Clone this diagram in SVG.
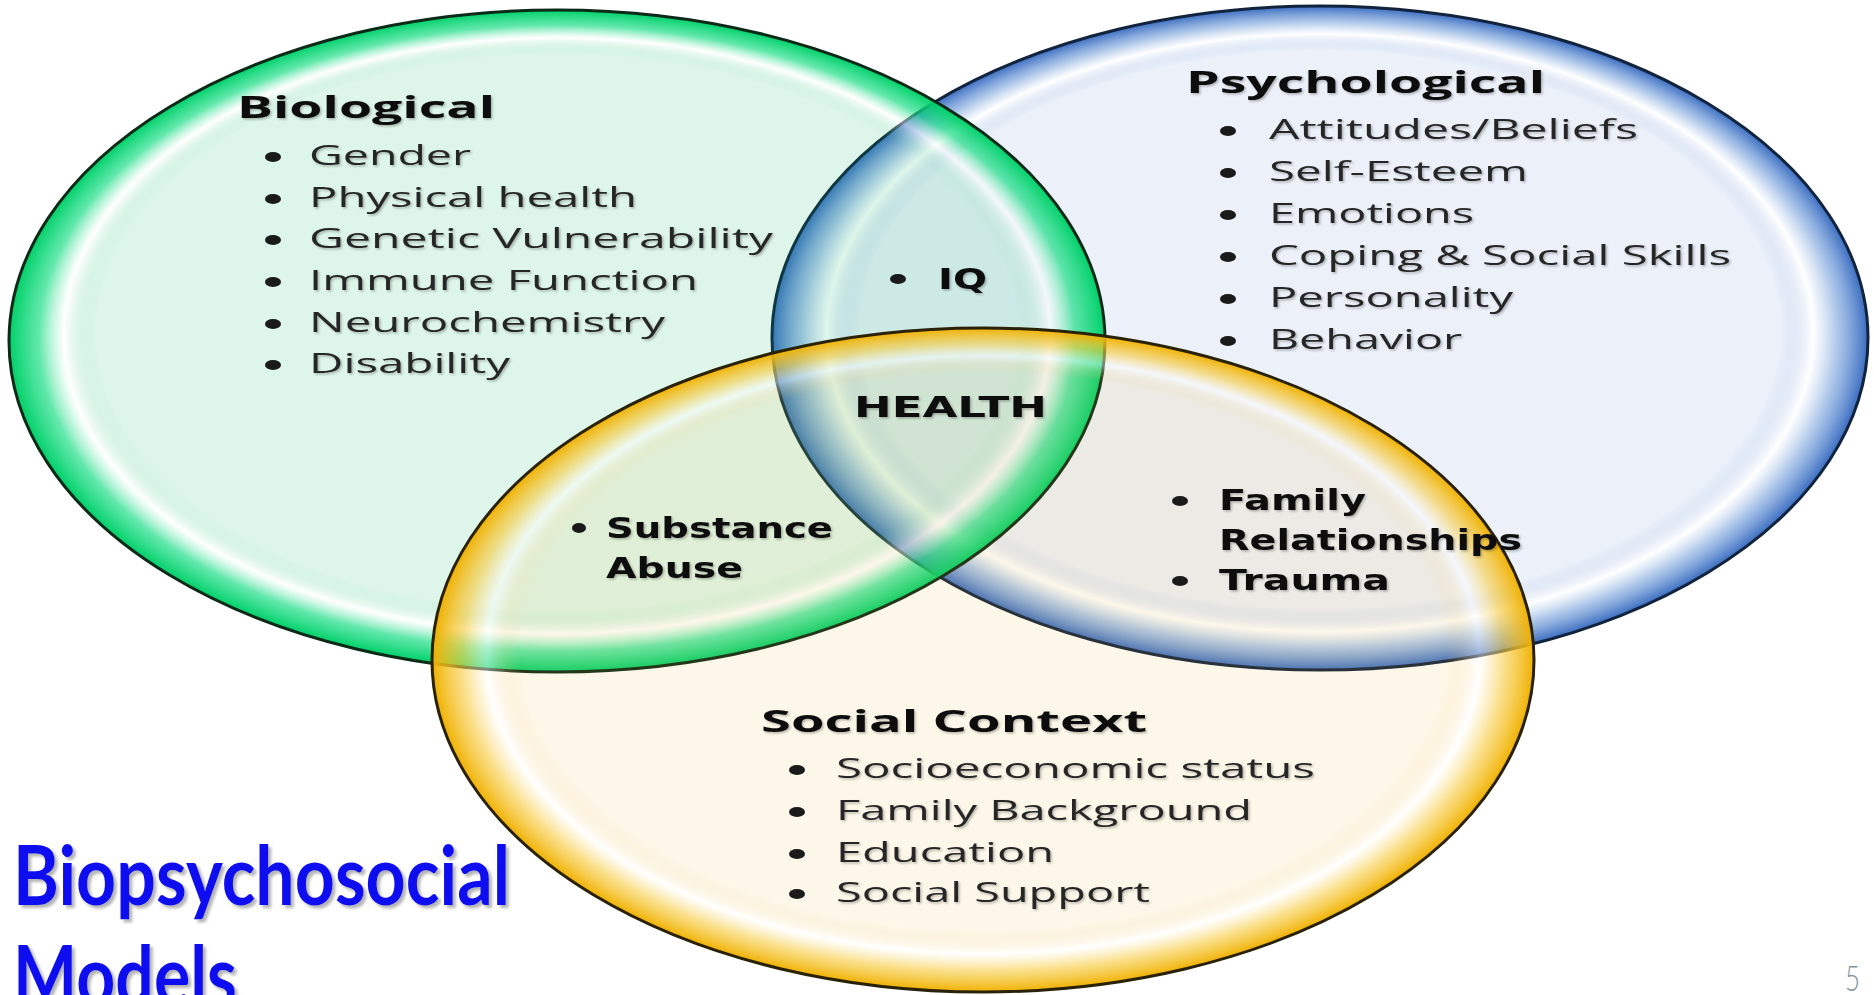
<svg xmlns="http://www.w3.org/2000/svg" width="1874" height="995" viewBox="0 0 1874 995">
  <defs>
    <!-- glossy rims: pale wash inside, highlight ring, saturated edge -->
    <radialGradient id="gradGreen" cx="0.5" cy="0.5" r="0.5" fx="0.5" fy="0.42">
      <stop offset="0" stop-color="#00b860" stop-opacity="0.13"/>
      <stop offset="0.84" stop-color="#00b860" stop-opacity="0.13"/>
      <stop offset="0.9" stop-color="#ffffff" stop-opacity="0.45"/>
      <stop offset="0.945" stop-color="#10dc80" stop-opacity="0.65"/>
      <stop offset="1" stop-color="#00d068" stop-opacity="1"/>
    </radialGradient>
    <radialGradient id="gradBlue" cx="0.5" cy="0.5" r="0.5" fx="0.5" fy="0.42">
      <stop offset="0" stop-color="#3c6ec8" stop-opacity="0.1"/>
      <stop offset="0.84" stop-color="#3c6ec8" stop-opacity="0.1"/>
      <stop offset="0.9" stop-color="#ffffff" stop-opacity="0.45"/>
      <stop offset="0.945" stop-color="#6a98d8" stop-opacity="0.55"/>
      <stop offset="1" stop-color="#3a6cc0" stop-opacity="1"/>
    </radialGradient>
    <radialGradient id="gradYellow" cx="0.5" cy="0.5" r="0.5" fx="0.5" fy="0.42">
      <stop offset="0" stop-color="#f0b428" stop-opacity="0.1"/>
      <stop offset="0.84" stop-color="#f0b428" stop-opacity="0.1"/>
      <stop offset="0.9" stop-color="#ffffff" stop-opacity="0.45"/>
      <stop offset="0.945" stop-color="#f8cc40" stop-opacity="0.6"/>
      <stop offset="1" stop-color="#f0b000" stop-opacity="1"/>
    </radialGradient>
    <filter id="textShadow" x="-5%" y="-20%" width="110%" height="150%">
      <feDropShadow dx="1.5" dy="1.5" stdDeviation="1.2" flood-color="#000" flood-opacity="0.28"/>
    </filter>
    <filter id="titleShadow" x="-5%" y="-20%" width="110%" height="150%">
      <feDropShadow dx="3" dy="3" stdDeviation="1.5" flood-color="#808080" flood-opacity="0.6"/>
    </filter>
  </defs>
  <style>
    .ring { stroke-width: 3; }
    .head { font-family: "Open Sans", "Liberation Sans", sans-serif; font-weight: bold; font-size: 30px; fill: #111; filter: url(#textShadow); }
    .item { font-family: "Open Sans", "Liberation Sans", sans-serif; font-size: 28px; fill: #262626; filter: url(#textShadow); }
    .core { font-family: "DejaVu Sans", "Liberation Sans", sans-serif; font-weight: bold; font-size: 28px; fill: #111; filter: url(#textShadow); }
    .dot { fill: #1a1a1a; }
    .title { font-family: Lato, "Liberation Sans", sans-serif; font-weight: bold; font-size: 83px; fill: #0a0af0; filter: url(#titleShadow); }
    .pagenum { font-family: Lato, "Liberation Sans", sans-serif; font-weight: 300; font-size: 35px; fill: #84939a; }
  </style>

  <rect width="1874" height="995" fill="#ffffff"/>

  <!-- the three overlapping circles -->
  <g id="circle-psychological">
    <ellipse class="ring" cx="1320" cy="338" rx="548" ry="332" fill="url(#gradBlue)" stroke="#12233d"/>
  </g>
  <g id="circle-biological">
    <ellipse class="ring" cx="557" cy="341" rx="548" ry="331" fill="url(#gradGreen)" stroke="#0c2a18"/>
  </g>
  <g id="circle-social">
    <ellipse class="ring" cx="983" cy="660" rx="551" ry="332" fill="url(#gradYellow)" stroke="#2a2208"/>
  </g>

  <g id="connectors"/>

  <!-- Biological factors -->
  <g id="node-biological">
    <text class="head" x="237" y="118" textLength="258" lengthAdjust="spacingAndGlyphs">Biological</text>
    <ellipse class="dot" cx="273" cy="157" rx="8" ry="5"/>
    <text class="item" x="309" y="165" textLength="162" lengthAdjust="spacingAndGlyphs">Gender</text>
    <ellipse class="dot" cx="273" cy="199" rx="8" ry="5"/>
    <text class="item" x="309" y="207" textLength="328" lengthAdjust="spacingAndGlyphs">Physical health</text>
    <ellipse class="dot" cx="273" cy="240" rx="8" ry="5"/>
    <text class="item" x="309" y="248" textLength="464" lengthAdjust="spacingAndGlyphs">Genetic Vulnerability</text>
    <ellipse class="dot" cx="273" cy="282" rx="8" ry="5"/>
    <text class="item" x="309" y="290" textLength="389" lengthAdjust="spacingAndGlyphs">Immune Function</text>
    <ellipse class="dot" cx="273" cy="324" rx="8" ry="5"/>
    <text class="item" x="309" y="332" textLength="356" lengthAdjust="spacingAndGlyphs">Neurochemistry</text>
    <ellipse class="dot" cx="273" cy="365" rx="8" ry="5"/>
    <text class="item" x="309" y="373" textLength="201" lengthAdjust="spacingAndGlyphs">Disability</text>
  </g>

  <!-- Psychological factors -->
  <g id="node-psychological">
    <text class="head" x="1186" y="93" textLength="359" lengthAdjust="spacingAndGlyphs">Psychological</text>
    <ellipse class="dot" cx="1228" cy="131" rx="8" ry="5"/>
    <text class="item" x="1269" y="139" textLength="369" lengthAdjust="spacingAndGlyphs">Attitudes/Beliefs</text>
    <ellipse class="dot" cx="1228" cy="173" rx="8" ry="5"/>
    <text class="item" x="1269" y="181" textLength="259" lengthAdjust="spacingAndGlyphs">Self-Esteem</text>
    <ellipse class="dot" cx="1228" cy="215" rx="8" ry="5"/>
    <text class="item" x="1269" y="223" textLength="205" lengthAdjust="spacingAndGlyphs">Emotions</text>
    <ellipse class="dot" cx="1228" cy="257" rx="8" ry="5"/>
    <text class="item" x="1269" y="265" textLength="462" lengthAdjust="spacingAndGlyphs">Coping &amp; Social Skills</text>
    <ellipse class="dot" cx="1228" cy="299" rx="8" ry="5"/>
    <text class="item" x="1269" y="307" textLength="244" lengthAdjust="spacingAndGlyphs">Personality</text>
    <ellipse class="dot" cx="1228" cy="341" rx="8" ry="5"/>
    <text class="item" x="1269" y="349" textLength="193" lengthAdjust="spacingAndGlyphs">Behavior</text>
  </g>

  <!-- Social context factors -->
  <g id="node-social">
    <text class="head" x="761" y="732" textLength="386" lengthAdjust="spacingAndGlyphs">Social Context</text>
    <ellipse class="dot" cx="797" cy="770" rx="8" ry="5"/>
    <text class="item" x="836" y="778" textLength="479" lengthAdjust="spacingAndGlyphs">Socioeconomic status</text>
    <ellipse class="dot" cx="797" cy="812" rx="8" ry="5"/>
    <text class="item" x="836" y="820" textLength="416" lengthAdjust="spacingAndGlyphs">Family Background</text>
    <ellipse class="dot" cx="797" cy="854" rx="8" ry="5"/>
    <text class="item" x="836" y="862" textLength="218" lengthAdjust="spacingAndGlyphs">Education</text>
    <ellipse class="dot" cx="797" cy="894" rx="8" ry="5"/>
    <text class="item" x="836" y="902" textLength="314" lengthAdjust="spacingAndGlyphs">Social Support</text>
  </g>

  <!-- overlaps -->
  <g id="node-iq">
    <ellipse class="dot" cx="898" cy="279" rx="8" ry="5"/>
    <text class="core" x="938" y="289" textLength="49" lengthAdjust="spacingAndGlyphs">IQ</text>
  </g>
  <g id="node-health">
    <text class="core" x="854" y="417" font-size="30" textLength="193" lengthAdjust="spacingAndGlyphs">HEALTH</text>
  </g>
  <g id="node-substance">
    <ellipse class="dot" cx="579" cy="528" rx="7" ry="5"/>
    <text class="core" x="606" y="538" font-size="27" textLength="227" lengthAdjust="spacingAndGlyphs">Substance</text>
    <text class="core" x="606" y="578" font-size="27" textLength="137" lengthAdjust="spacingAndGlyphs">Abuse</text>
  </g>
  <g id="node-family">
    <ellipse class="dot" cx="1180" cy="501" rx="8" ry="5"/>
    <text class="core" x="1219" y="510" font-size="27" textLength="147" lengthAdjust="spacingAndGlyphs">Family</text>
    <text class="core" x="1219" y="550" font-size="27" textLength="303" lengthAdjust="spacingAndGlyphs">Relationships</text>
    <ellipse class="dot" cx="1180" cy="581" rx="8" ry="5"/>
    <text class="core" x="1219" y="590" font-size="27" textLength="171" lengthAdjust="spacingAndGlyphs">Trauma</text>
  </g>

  <!-- slide title and page number -->
  <g id="title">
    <text class="title" x="13" y="905" textLength="497" lengthAdjust="spacingAndGlyphs">Biopsychosocial</text>
    <text class="title" x="13" y="1005" textLength="224" lengthAdjust="spacingAndGlyphs">Models</text>
  </g>
  <text class="pagenum" x="1845" y="991" textLength="15" lengthAdjust="spacingAndGlyphs">5</text>
</svg>
